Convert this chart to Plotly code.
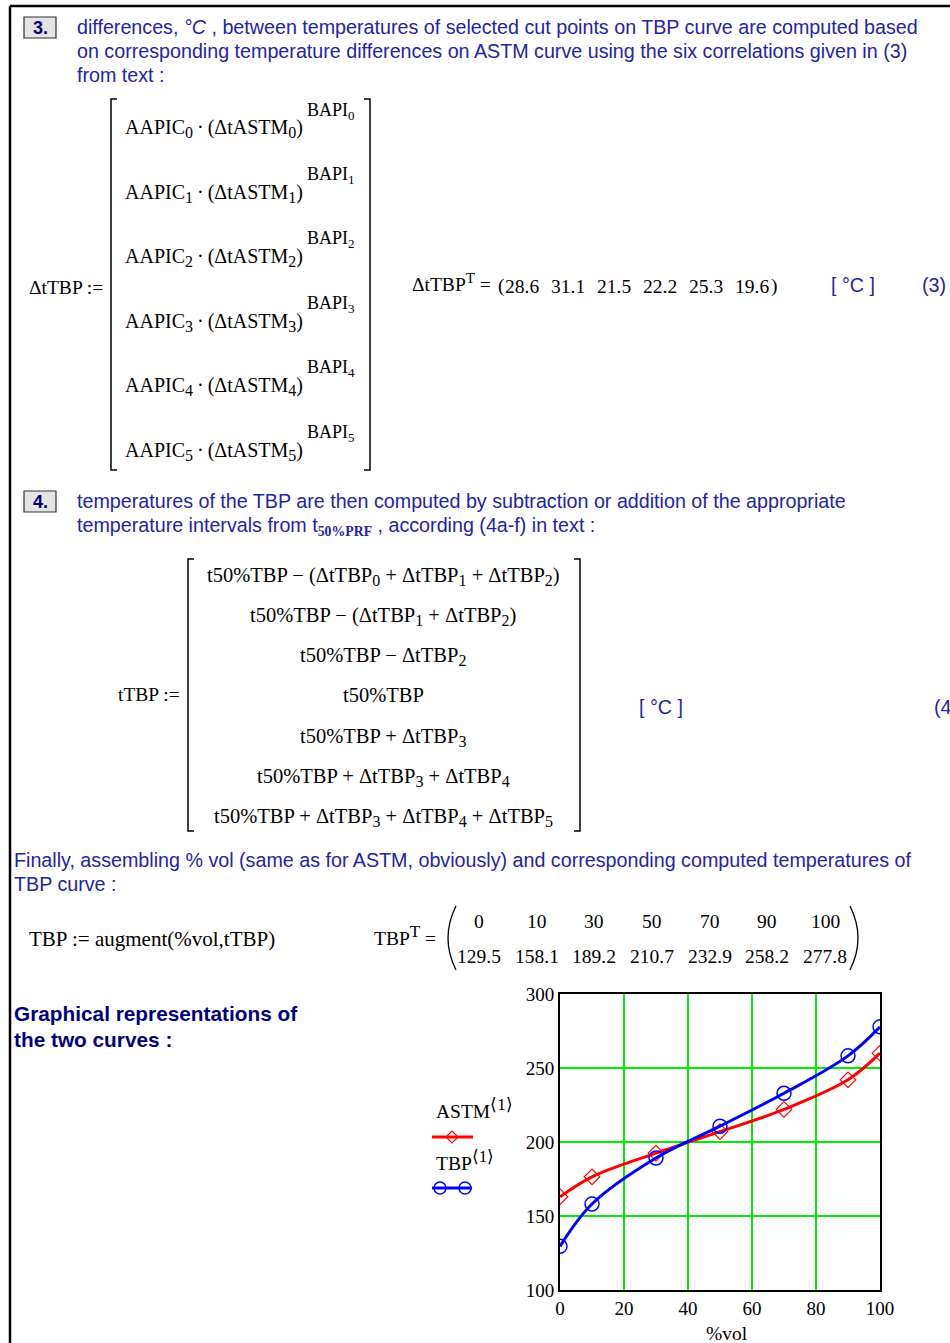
import plotly.graph_objects as go

W, H = 950, 1343

# ---- data ----
pct_vol = [0, 10, 30, 50, 70, 90, 100]
t_astm = [163, 176.5, 192.5, 207, 222, 242, 260]
t_tbp = [129.5, 158.1, 189.2, 210.7, 232.9, 258.2, 277.8]
dt_tbp = [28.6, 31.1, 21.5, 22.2, 25.3, 19.6]
x_ticks = [0, 20, 40, 60, 80, 100]
y_ticks = [100, 150, 200, 250, 300]

BLUE_TXT = "#2323a8"
NAVY = "#000080"
SANS = "Liberation Sans, Arial, sans-serif"
SERIF = "Liberation Serif, Times New Roman, serif"
BT = 19.7     # blue text size
MS = 19.5     # math text size


def px(x):
    return x / W


def py(y):
    return 1 - y / H


def sb(s, size=15):
    return f"<sub><span style='font-size:{size}px'>{s}</span></sub>"


def sp(s, size=17):
    return f"<sup><span style='font-size:{size}px'>{s}</span></sup>"


annotations = []
shapes = []


def text(t, x, y, size=17, color="black", family=SERIF, xanchor="left", yanchor="middle"):
    annotations.append(dict(
        text=t, x=px(x), y=py(y), xref="paper", yref="paper",
        xanchor=xanchor, yanchor=yanchor, showarrow=False,
        font=dict(size=size, color=color, family=family), align="left"))


def line(x0, y0, x1, y1, color="black", width=1.5):
    shapes.append(dict(type="line", xref="paper", yref="paper",
                       x0=px(x0), y0=py(y0), x1=px(x1), y1=py(y1),
                       line=dict(color=color, width=width)))


def path(pts, color="black", width=1.5):
    d = "M " + " L ".join(f"{px(a):.5f},{py(b):.5f}" for a, b in pts)
    shapes.append(dict(type="path", xref="paper", yref="paper", path=d,
                       line=dict(color=color, width=width)))


def box_num(label, x0, y0, x1, y1):
    shapes.append(dict(type="rect", xref="paper", yref="paper",
                       x0=px(x0), y0=py(y1), x1=px(x1), y1=py(y0),
                       fillcolor="#e4e4e4", line=dict(color="#303030", width=1.2)))
    text(f"<b>{label}</b>", (x0 + x1) / 2, (y0 + y1) / 2, size=18, color=NAVY,
         family=SANS, xanchor="center")


# ---- page borders ----
line(10, 6, 950, 6, width=2.5)
line(10, 6, 10, 1343, width=2.5)

# ---- step 3 ----
box_num("3.", 24, 17, 56, 38)
text("differences, <i>°C</i> , between temperatures of selected cut points on TBP curve are computed based",
     75, 27, size=BT, color=BLUE_TXT, family=SANS)
text("on corresponding temperature differences on ASTM curve using the six correlations given in (3)",
     75, 51, size=BT, color=BLUE_TXT, family=SANS)
text("from text :", 75, 75, size=BT, color=BLUE_TXT, family=SANS)

text("ΔtTBP :=", 27, 287, size=MS)
for i in range(6):
    yy = 129 + 64.4 * i
    text(f"AAPIC{sb(i, 16)}\u2009·\u2009(ΔtASTM{sb(i, 16)})", 123, yy, size=20)
    text(f"BAPI{sb(i, 13)}", 305, yy - 18, size=18)
# brackets
path([(117, 99), (111, 99), (111, 470), (117, 470)])
path([(364, 99), (370, 99), (370, 470), (364, 470)])

text(f"ΔtTBP{sp('T', 15)} =", 410, 283, size=MS)
text("(", 496, 286, size=MS)
vec_x = [522, 568, 614, 660, 706, 752]
for v, xx in zip(dt_tbp, vec_x):
    text(f"{v:.1f}", xx, 286, size=MS, xanchor="center")
text(")", 769, 286, size=MS)
text("[ °C ]", 829, 285, size=BT, color=BLUE_TXT, family=SANS)
text("(3)", 920, 285, size=BT, color=BLUE_TXT, family=SANS)

# ---- step 4 ----
box_num("4.", 24, 491, 56, 512)
text("temperatures of the TBP are then computed by subtraction or addition of the appropriate",
     75, 501, size=BT, color=BLUE_TXT, family=SANS)
text("temperature intervals from t<sub><span style='font-family:Liberation Serif'><b>50%PRF</b></span></sub> , according (4a-f) in text :",
     75, 526, size=BT, color=BLUE_TXT, family=SANS)

text("tTBP :=", 116, 695, size=MS)
rows = [
    f"t50%TBP − (ΔtTBP{sb(0, 16)} + ΔtTBP{sb(1, 16)} + ΔtTBP{sb(2, 16)})",
    f"t50%TBP − (ΔtTBP{sb(1, 16)} + ΔtTBP{sb(2, 16)})",
    f"t50%TBP − ΔtTBP{sb(2, 16)}",
    "t50%TBP",
    f"t50%TBP + ΔtTBP{sb(3, 16)}",
    f"t50%TBP + ΔtTBP{sb(3, 16)} + ΔtTBP{sb(4, 16)}",
    f"t50%TBP + ΔtTBP{sb(3, 16)} + ΔtTBP{sb(4, 16)} + ΔtTBP{sb(5, 16)}",
]
for i, r in enumerate(rows):
    yy = 576 + 40.3 * i if i != 3 else 695
    text(r, 383, yy, size=20.5, xanchor="center")
path([(194, 559), (188, 559), (188, 831), (194, 831)])
path([(574, 559), (580, 559), (580, 831), (574, 831)])
text("[ °C ]", 637, 707, size=BT, color=BLUE_TXT, family=SANS)
text("(4", 932, 707, size=BT, color=BLUE_TXT, family=SANS)

# ---- final assembly ----
text("Finally, assembling % vol (same as for ASTM, obviously) and corresponding computed temperatures of",
     12, 860, size=BT, color=BLUE_TXT, family=SANS)
text("TBP curve :", 12, 884, size=BT, color=BLUE_TXT, family=SANS)

text("TBP := augment(%vol,tTBP)", 27, 939, size=21)
text(f"TBP{sp('T')} =", 372, 935, size=MS)
col_x = [479, 537, 594, 652, 710, 767, 825]
for v, t, xx in zip(pct_vol, t_tbp, col_x):
    text(f"{v}", xx, 921, size=MS, xanchor="center")
    text(f"{t:.1f}", xx, 956, size=MS, xanchor="center")
shapes.append(dict(type="path", xref="paper", yref="paper",
                   path=f"M {px(456):.5f},{py(906):.5f} Q {px(440):.5f},{py(938):.5f} {px(456):.5f},{py(970):.5f}",
                   line=dict(color="black", width=1.3)))
shapes.append(dict(type="path", xref="paper", yref="paper",
                   path=f"M {px(850):.5f},{py(906):.5f} Q {px(866):.5f},{py(938):.5f} {px(850):.5f},{py(970):.5f}",
                   line=dict(color="black", width=1.3)))

text("<b>Graphical representations of</b>", 12, 1013, size=20.8, color=NAVY, family=SANS)
text("<b>the two curves :</b>", 12, 1039, size=20.8, color=NAVY, family=SANS)

# ---- chart ----
fig = go.Figure()
fig.add_trace(go.Scatter(
    x=pct_vol, y=t_astm, mode="lines+markers", name="ASTM",
    line=dict(color="#ff0000", width=3, shape="spline", smoothing=1.0),
    marker=dict(symbol="diamond-open", size=12, color="#ff0000", line=dict(width=1.2))))
fig.add_trace(go.Scatter(
    x=pct_vol, y=t_tbp, mode="lines+markers", name="TBP",
    line=dict(color="#0000ff", width=3, shape="spline", smoothing=1.0),
    marker=dict(symbol="circle-open", size=14, color="#0000ff", line=dict(width=1.5))))

fig.update_xaxes(domain=[px(560), px(880)], range=[0, 100], tickvals=x_ticks,
                 showgrid=True, gridcolor="#00ee00", gridwidth=1.5, zeroline=False,
                 showline=True, linecolor="black", linewidth=2, mirror=True, ticks="",
                 tickfont=dict(family=SERIF, size=19, color="black"), fixedrange=True)
fig.update_yaxes(domain=[py(1290), py(994)], range=[100, 300], tickvals=y_ticks,
                 showgrid=True, gridcolor="#00ee00", gridwidth=1.5, zeroline=False,
                 showline=True, linecolor="black", linewidth=2, mirror=True, ticks="",
                 tickfont=dict(family=SERIF, size=19, color="black"), fixedrange=True)

text("%vol", 727, 1333, size=MS, xanchor="center")

# custom legend
text(f"ASTM{sp('⟨1⟩')}", 434, 1108, size=MS)
line(432, 1137, 473, 1137, color="#ff0000", width=3)
path([(452, 1131), (458, 1137), (452, 1143), (446, 1137), (452, 1131)], color="#ff0000", width=1.2)
text(f"TBP{sp('⟨1⟩')}", 434, 1160, size=MS)
line(432, 1188, 472, 1188, color="#0000ff", width=3)
for cx in (440, 465):
    shapes.append(dict(type="circle", xref="paper", yref="paper",
                       x0=px(cx - 6), x1=px(cx + 6), y0=py(1194), y1=py(1182),
                       line=dict(color="#0000ff", width=1.5)))

fig.update_layout(
    width=W, height=H, margin=dict(l=0, r=0, t=0, b=0, autoexpand=False),
    paper_bgcolor="white", plot_bgcolor="white", showlegend=False,
    annotations=annotations, shapes=shapes,
)

fig.write_html("out.html", config={"displayModeBar": False},
               post_script="document.body.style.margin='0';document.body.style.padding='0';"
                           "document.body.style.overflow='hidden';")
